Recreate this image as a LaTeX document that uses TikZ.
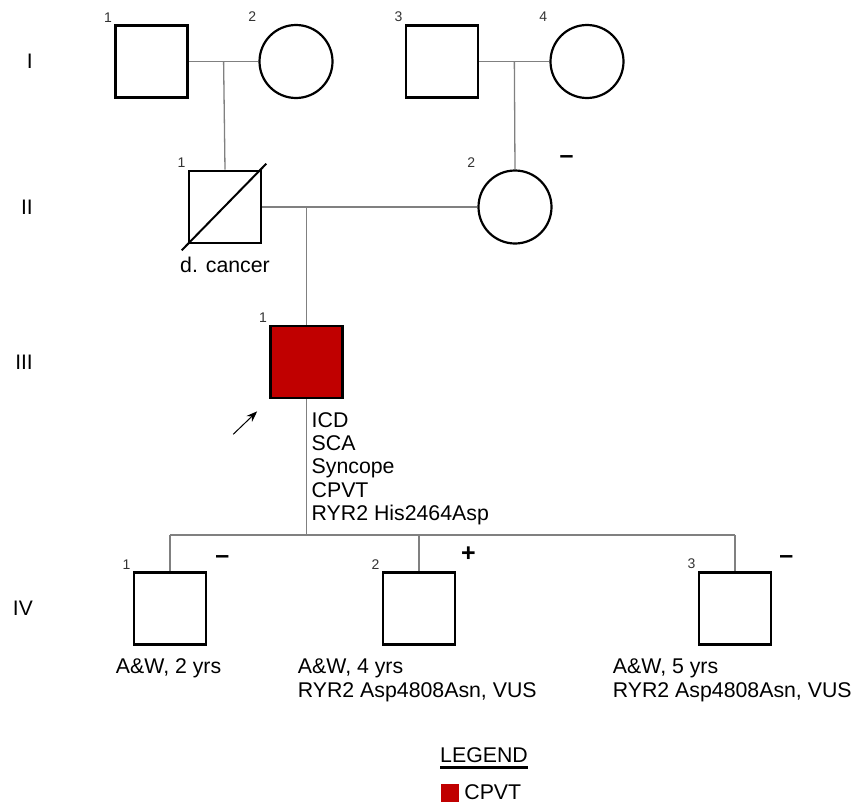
\documentclass[tikz,border=0pt]{standalone}
\usepackage{fontspec}
\setmainfont{Liberation Sans}
\usetikzlibrary{positioning, arrows.meta}
\definecolor{cpvtred}{HTML}{C00000}

\begin{document}
\begin{tikzpicture}[x=1pt, y=-1pt,
    male/.style={draw, line width=2.6pt, minimum size=72pt, inner sep=0pt},
    female/.style={draw, circle, line width=2.2pt, minimum size=73pt, inner sep=0pt},
    line/.style={draw=black!50, line width=1.3pt},
    num/.style={font=\fontsize{14}{14}\selectfont, text=black!80, inner sep=2pt, anchor=south east},
    txt/.style={font=\fontsize{21.3}{23.3}\selectfont, align=left, anchor=north west, inner sep=0pt},
    gen/.style={font=\fontsize{21}{21}\selectfont, anchor=east, inner sep=0pt},
    sign/.style={font=\fontsize{25}{25}\bfseries\selectfont, inner sep=0pt}]
    \useasboundingbox (0,0) rectangle (860,806);

    % generation labels
    \node[gen] (genI) at (33,61) {I};
    \node[gen] (genII) at (33,207) {II};
    \node[gen] (genIII) at (33,362) {III};
    \node[gen] (genIV) at (33,608) {IV};

    % individuals
    \node[male] (i1) at (151.5,61.5) {};
    \node[female] (i2) at (296,61.5) {};
    \node[male] (i3) at (442,61.5) {};
    \node[female] (i4) at (587,61.5) {};
    \node[male] (ii1) at (225,207) {};
    \node[female] (ii2) at (515,207) {};
    \node[male, fill=cpvtred] (iii1) at (306.5,362) {};
    \node[male] (iv1) at (170,608.5) {};
    \node[male] (iv2) at (419,608.5) {};
    \node[male] (iv3) at (735,608.5) {};

    % numbers
    \node[num] at (i1.north west) {1};
    \node[num] at (i2.west |- i2.north) {2};
    \node[num] at (i3.north west) {3};
    \node[num] at (i4.west |- i4.north) {4};
    \node[num] at (ii1.north west) {1};
    \node[num] at (ii2.west |- ii2.north) {2};
    \node[num] at (iii1.north west) {1};
    \node[num] at (iv1.north west) {1};
    \node[num] at (iv2.north west) {2};
    \node[num] at (iv3.north west) {3};

    % test results
    \node[sign, xshift=14pt, yshift=10pt] (ii2res) at (ii2.east |- ii2.north) {–};
    \node[sign, xshift=15pt, yshift=12pt] (iv1res) at (iv1.north east) {–};
    \node[sign, xshift=12pt, yshift=17pt] (iv2res) at (iv2.north east) {+};
    \node[sign, xshift=14pt, yshift=12pt] (iv3res) at (iv3.north east) {–};

    % couples and descent lines
    \draw[line] (i1.east) -- coordinate[midway] (m1) (i2.west);
    \draw[line] (m1) -- (ii1.north);
    \draw[line] (i3.east) -- coordinate[midway] (m2) (i4.west);
    \draw[line] (m2) -- (ii2.north);
    \draw[line] (ii1.east) -- (ii2.west);
    \draw[line] (iii1 |- ii1.east) -- (iii1.north);
    \coordinate (sib) at (306.5,535);
    \draw[line] (iii1.south) -- (sib);
    \draw[line] (iv1.north |- sib) -- (iv3.north |- sib);
    \foreach \k in {iv1,iv2,iv3}
        \draw[line] (\k.north |- sib) -- (\k.north);

    % deceased
    \draw[line width=2pt] ([shift={(-6,6)}]ii1.south west) -- ([shift={(4,-6)}]ii1.north east);

    % proband arrow
    \draw[-{Stealth[length=11pt, width=8pt]}, line width=1pt]
        ([shift={(-36,35)}]iii1.south west) -- ([shift={(-12,12)}]iii1.south west);

    % notes
    \node[txt, anchor=north, below=13pt of ii1] (ii1txt) {d. cancer};
    \node[txt] (iii1txt) at ([xshift=5pt, yshift=-13pt]iii1.south)
        {ICD\\SCA\\Syncope\\CPVT\\RYR2 His2464Asp};
    \node[txt] (iv1txt) at ([xshift=-17pt, yshift=-13pt]iv1.south west) {A\&W, 2 yrs};
    \node[txt] (iv2txt) at ([xshift=-84pt, yshift=-13pt]iv2.south west)
        {A\&W, 4 yrs\\RYR2 Asp4808Asn, VUS};
    \node[txt] (iv3txt) at ([xshift=-85pt, yshift=-13pt]iv3.south west)
        {A\&W, 5 yrs\\RYR2 Asp4808Asn, VUS};

    % legend
    \node[txt, anchor=north] (leg) at (484,747) {LEGEND};
    \draw[line width=2.4pt] ([yshift=-5pt]leg.south west) -- ([yshift=-5pt]leg.south east);
    \node[fill=cpvtred, minimum size=18pt, inner sep=0pt] (legbox) at (450,792.5) {};
    \node[txt, anchor=west, right=5pt of legbox] (legtxt) {CPVT};
\end{tikzpicture}
\end{document}
